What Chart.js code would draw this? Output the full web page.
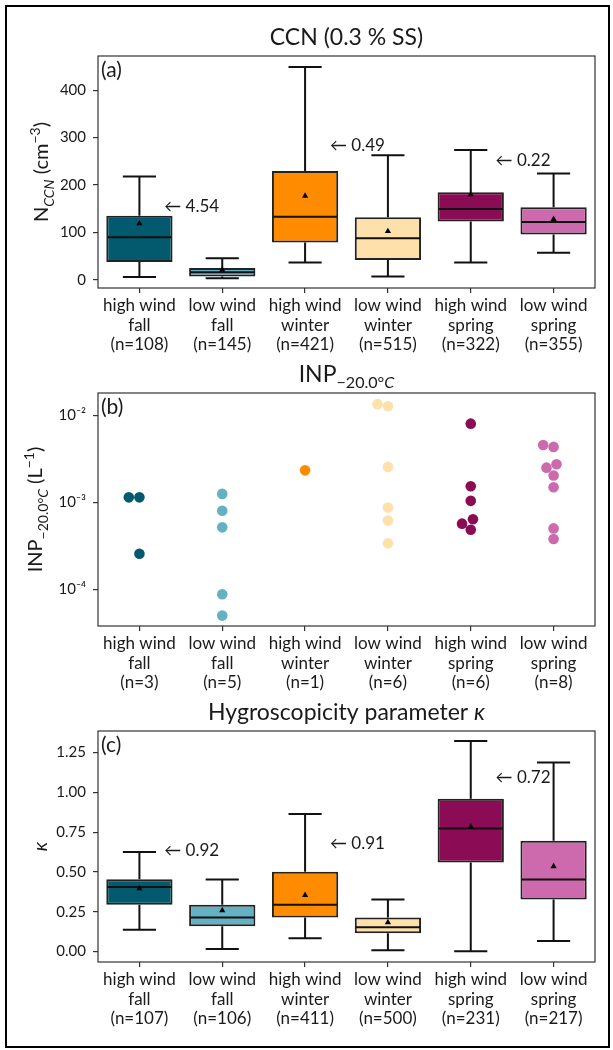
<!DOCTYPE html>
<html><head><meta charset="utf-8">
<script src="https://cdn.jsdelivr.net/npm/chart.js@4"></script>
<style>
html,body{margin:0;padding:0;background:#fff;}
#page{position:relative;width:613px;height:1050px;overflow:hidden;background:#fff;}
canvas{position:absolute;left:0;}
#frame{position:absolute;left:5px;top:5px;width:601px;height:1039px;border:2.5px solid #000;pointer-events:none;}
</style></head><body>
<div id="page">
<canvas id="cA" width="613" height="360" style="top:0px"></canvas>
<canvas id="cB" width="613" height="340" style="top:360px"></canvas>
<canvas id="cC" width="613" height="350" style="top:700px"></canvas>
<div id="frame"></div>
</div>
<script>
const FONT = 'Lato, "DejaVu Sans", sans-serif';
const TXT = '#1a1a1a';

// ---- categories ----
const windLabels = ['high wind', 'low wind', 'high wind', 'low wind', 'high wind', 'low wind'];
const seasonLabels = ['fall', 'fall', 'winter', 'winter', 'spring', 'spring'];
const boxColors = ['#035a6e', '#66b0c4', '#ff8c00', '#fee0aa', '#8c0b55', '#cc6aad'];

// ---- (a) CCN ----
const ccnN = [108, 145, 421, 515, 322, 355];
const ccnLow = [6, 3.5, 37, 7, 37, 57.5];
const ccnQ1 = [38, 7, 79, 42, 123, 96];
const ccnMedian = [90, 16, 133, 88, 149.5, 122];
const ccnQ3 = [135.5, 25, 229.5, 132, 184.6, 153];
const ccnHigh = [218, 45.6, 449, 263, 274, 224.6];
const ccnMean = [119, 21, 177, 102.5, 180, 128];
const ccnTicks = [0, 100, 200, 300, 400];
const ccnAnnotText = ['4.54', '0.49', '0.22'];
const ccnAnnotCat = [0, 2, 4];
const ccnAnnotY = [154, 283, 251];

// ---- (b) INP ----
const inpN = [3, 5, 1, 6, 6, 8];
const inpHWFall = [1.14e-3, 1.14e-3, 2.57e-4];
const inpLWFall = [1.25e-3, 8.0e-4, 5.16e-4, 8.8e-5, 5.0e-5];
const inpHWWinter = [2.33e-3];
const inpLWWinter = [1.34e-2, 1.27e-2, 2.55e-3, 8.7e-4, 6.17e-4, 3.38e-4];
const inpHWSpring = [8.0e-3, 1.53e-3, 1.04e-3, 6.38e-4, 5.69e-4, 4.85e-4];
const inpLWSpring = [4.56e-3, 4.33e-3, 2.74e-3, 2.50e-3, 2.03e-3, 1.49e-3, 5.02e-4, 3.79e-4];
const inpTicks = [1e-4, 1e-3, 1e-2];
const inpTickLabels = ['10⁻⁴', '10⁻³', '10⁻²'];

// ---- (c) kappa ----
const kN = [107, 106, 411, 500, 231, 217];
const kLow = [0.1375, 0.016, 0.083, 0.008, 0.002, 0.066];
const kQ1 = [0.294, 0.158, 0.214, 0.114, 0.56, 0.327];
const kMedian = [0.406, 0.214, 0.294, 0.152, 0.773, 0.452];
const kQ3 = [0.454, 0.294, 0.502, 0.214, 0.96, 0.696];
const kHigh = [0.625, 0.452, 0.864, 0.327, 1.3225, 1.1875];
const kMean = [0.396, 0.258, 0.354, 0.183, 0.785, 0.535];
const kTicks = [0, 0.25, 0.5, 0.75, 1.0, 1.25];
const kAnnotText = ['0.92', '0.91', '0.72'];
const kAnnotCat = [0, 2, 4];
const kAnnotY = [0.633, 0.681, 1.094];

function xLabels(nArr) {
  return windLabels.map((w, i) => [w, seasonLabels[i], '(n=' + nArr[i] + ')']);
}

function segFont(seg, size) {
  const s = (seg.sub || seg.sup) ? size * 0.7 : size;
  return (seg.italic ? 'italic ' : '') + s + 'px ' + FONT;
}
function drawRich(ctx, segs, x, y, size, rot) {
  ctx.save();
  ctx.translate(x, y);
  ctx.rotate(rot);
  let total = 0;
  segs.forEach(sg => { ctx.font = segFont(sg, size); total += ctx.measureText(sg.t).width; });
  let cx = -total / 2;
  ctx.textAlign = 'left';
  ctx.textBaseline = 'alphabetic';
  ctx.fillStyle = TXT;
  segs.forEach(sg => {
    ctx.font = segFont(sg, size);
    const dy = sg.sub ? size * 0.28 : (sg.sup ? -size * 0.42 : 0);
    ctx.fillText(sg.t, cx, dy);
    cx += ctx.measureText(sg.t).width;
  });
  ctx.restore();
}

const decoPlugin = {
  id: 'deco',
  afterDatasetDraw(chart, args, opts) {
    if (!opts.box || args.index !== 0) return;
    const b = opts.box, ys = chart.scales.y, ctx = chart.ctx;
    ctx.save();
    ctx.strokeStyle = '#111';
    ctx.lineWidth = 2;
    args.meta.data.forEach((bar, i) => {
      const x = bar.x, w = bar.width, cap = w / 4;
      const pLow = ys.getPixelForValue(b.low[i]);
      const pQ1 = ys.getPixelForValue(b.q1[i]);
      const pMed = ys.getPixelForValue(b.med[i]);
      const pQ3 = ys.getPixelForValue(b.q3[i]);
      const pHigh = ys.getPixelForValue(b.high[i]);
      ctx.beginPath();
      ctx.moveTo(x, pQ1); ctx.lineTo(x, pLow);
      ctx.moveTo(x - cap, pLow); ctx.lineTo(x + cap, pLow);
      ctx.moveTo(x, pQ3); ctx.lineTo(x, pHigh);
      ctx.moveTo(x - cap, pHigh); ctx.lineTo(x + cap, pHigh);
      ctx.moveTo(x - w / 2 + 1, pMed); ctx.lineTo(x + w / 2 - 1, pMed);
      ctx.stroke();
    });
    ctx.restore();
  },
  afterDraw(chart, args, opts) {
    const ctx = chart.ctx, a = chart.chartArea;
    ctx.save();
    ctx.strokeStyle = '#333';
    ctx.lineWidth = 1.2;
    ctx.strokeRect(a.left, a.top, a.right - a.left, a.bottom - a.top);
    ctx.fillStyle = TXT;
    ctx.font = '21px ' + FONT;
    ctx.textBaseline = 'top';
    ctx.textAlign = 'left';
    ctx.fillText(opts.letter, a.left + 3, a.top + 4);
    drawRich(ctx, opts.title, (a.left + a.right) / 2, a.top - 11, 23, 0);
    drawRich(ctx, opts.yTitle, opts.yTitleX, (a.top + a.bottom) / 2, 20, -Math.PI / 2);
    if (opts.annot) {
      const xs = chart.scales.x, ys = chart.scales.y;
      ctx.font = '17px ' + FONT;
      ctx.textBaseline = 'middle';
      ctx.fillStyle = TXT;
      opts.annot.text.forEach((t, i) => {
        ctx.fillText('← ' + t, xs.getPixelForValue(opts.annot.cat[i] + 0.3), ys.getPixelForValue(opts.annot.y[i]));
      });
    }
    ctx.restore();
  }
};

function tickGrid() {
  return { display: true, drawOnChartArea: false, drawTicks: true, tickLength: 5, offset: false, color: '#333', lineWidth: 1.2 };
}

function boxChart(canvas, cfg) {
  return new Chart(canvas, {
    type: 'bar',
    data: {
      labels: xLabels(cfg.n),
      datasets: [
        { type: 'bar', data: cfg.q1.map((v, i) => [v, cfg.q3[i]]), backgroundColor: boxColors, borderColor: '#222',
          borderWidth: 2, borderSkipped: false, barPercentage: 0.8, categoryPercentage: 1, order: 2 },
        { type: 'line', data: cfg.mean, showLine: false, pointStyle: 'triangle', pointRadius: 3.6, pointHoverRadius: 3.6,
          backgroundColor: '#000', borderColor: '#000', pointBorderWidth: 0, order: 1 }
      ]
    },
    options: {
      responsive: false, animation: false, devicePixelRatio: 1,
      layout: { padding: cfg.padding },
      plugins: {
        legend: { display: false }, tooltip: { enabled: false }, title: { display: false },
        deco: { box: { low: cfg.low, q1: cfg.q1, med: cfg.med, q3: cfg.q3, high: cfg.high },
                letter: cfg.letter, title: cfg.title, yTitle: cfg.yTitle, yTitleX: cfg.yTitleX, annot: cfg.annot }
      },
      scales: {
        x: { type: 'category', offset: true, grid: tickGrid(), border: { display: false },
             ticks: { font: { family: FONT, size: 17, lineHeight: 1.15 }, color: TXT, padding: 3, maxRotation: 0, autoSkip: false },
             afterFit(s) { s.height = 70; } },
        y: { min: cfg.min, max: cfg.max, grid: tickGrid(), border: { display: false },
             ticks: { font: { family: FONT, size: 15 }, color: TXT, padding: 7, callback: cfg.fmt },
             afterBuildTicks(s) { s.ticks = cfg.ticks.map(v => ({ value: v })); },
             afterFit(s) { s.width = 60; } }
      }
    },
    plugins: [decoPlugin]
  });
}

boxChart(document.getElementById('cA'), {
  n: ccnN, low: ccnLow, q1: ccnQ1, med: ccnMedian, q3: ccnQ3, high: ccnHigh, mean: ccnMean,
  min: -17, max: 472, ticks: ccnTicks, fmt: v => String(v),
  padding: { top: 56, left: 38, right: 18, bottom: 2 },
  letter: '(a)', title: [{ t: 'CCN (0.3 % SS)' }],
  yTitle: [{ t: 'N' }, { t: 'CCN', sub: true, italic: true }, { t: ' (cm' }, { t: '−3', sup: true }, { t: ')' }],
  yTitleX: 48,
  annot: { text: ccnAnnotText, cat: ccnAnnotCat, y: ccnAnnotY }
});

boxChart(document.getElementById('cC'), {
  n: kN, low: kLow, q1: kQ1, med: kMedian, q3: kQ3, high: kHigh, mean: kMean,
  min: -0.066, max: 1.386, ticks: kTicks, fmt: v => Number(v).toFixed(2),
  padding: { top: 31, left: 38, right: 18, bottom: 18 },
  letter: '(c)', title: [{ t: 'Hygroscopicity parameter ' }, { t: 'κ', italic: true }],
  yTitle: [{ t: 'κ', italic: true }],
  yTitleX: 47,
  annot: { text: kAnnotText, cat: kAnnotCat, y: kAnnotY }
});

// ---- (b) scatter with swarm layout ----
const inpSeries = [inpHWFall, inpLWFall, inpHWWinter, inpLWWinter, inpHWSpring, inpLWSpring];
const R = 5.3;
const labelsB = xLabels(inpN);
const chartB = new Chart(document.getElementById('cB'), {
  type: 'scatter',
  data: {
    datasets: inpSeries.map((arr, i) => ({
      data: arr.map(v => ({ x: i, y: v })), backgroundColor: boxColors[i], borderColor: boxColors[i],
      borderWidth: 0, pointRadius: R, pointHoverRadius: R
    }))
  },
  options: {
    responsive: false, animation: false, devicePixelRatio: 1,
    layout: { padding: { top: 33, left: 38, right: 18, bottom: 4 } },
    plugins: {
      legend: { display: false }, tooltip: { enabled: false },
      deco: { letter: '(b)', title: [{ t: 'INP' }, { t: '−20.0°', sub: true }, { t: 'C', sub: true, italic: true }],
              yTitle: [{ t: 'INP' }, { t: '−20.0°', sub: true }, { t: 'C', sub: true, italic: true }, { t: ' (L' }, { t: '−1', sup: true }, { t: ')' }],
              yTitleX: 42 }
    },
    scales: {
      x: { type: 'linear', min: -0.5, max: 5.5, grid: tickGrid(), border: { display: false },
           afterBuildTicks(s) { s.ticks = labelsB.map((l, i) => ({ value: i })); },
           ticks: { font: { family: FONT, size: 17, lineHeight: 1.15 }, color: TXT, padding: 3, maxRotation: 0, autoSkip: false,
                    callback: v => labelsB[Math.round(v)] },
           afterFit(s) { s.height = 70; } },
      y: { type: 'logarithmic', min: 3.8e-5, max: 1.8e-2, grid: tickGrid(), border: { display: false },
           afterBuildTicks(s) { s.ticks = inpTicks.map(v => ({ value: v })); },
           ticks: { font: { family: FONT, size: 15 }, color: TXT, padding: 7,
                    callback: v => inpTickLabels[inpTicks.findIndex(t => Math.abs(Math.log10(t) - Math.log10(v)) < 1e-6)] },
           afterFit(s) { s.width = 60; } }
    }
  },
  plugins: [decoPlugin]
});

(function swarm(chart) {
  const xs = chart.scales.x, ys = chart.scales.y;
  const pxPerUnit = xs.getPixelForValue(1) - xs.getPixelForValue(0);
  const D = 2 * R;
  chart.data.datasets.forEach((ds, i) => {
    const vals = inpSeries[i];
    const order = vals.map((v, k) => k).sort((a, b) => (vals[a] - vals[b]) || (a - b));
    const placed = [];
    const offs = new Array(vals.length).fill(0);
    order.forEach(k => {
      const py = ys.getPixelForValue(vals[k]);
      const cands = [0];
      placed.forEach(p => {
        const dy = Math.abs(p.y - py);
        if (dy < D) { const dx = Math.sqrt(D * D - dy * dy); cands.push(p.x - dx, p.x + dx); }
      });
      cands.sort((a, b) => (Math.abs(a) - Math.abs(b)) || (a - b));
      const ok = cands.find(c => placed.every(p => Math.hypot(p.x - c, p.y - py) >= D - 1e-6));
      placed.push({ x: ok, y: py });
      offs[k] = ok;
    });
    ds.data = vals.map((v, k) => ({ x: i + offs[k] / pxPerUnit, y: v }));
  });
  chart.update('none');
})(chartB);
</script>
</body></html>
